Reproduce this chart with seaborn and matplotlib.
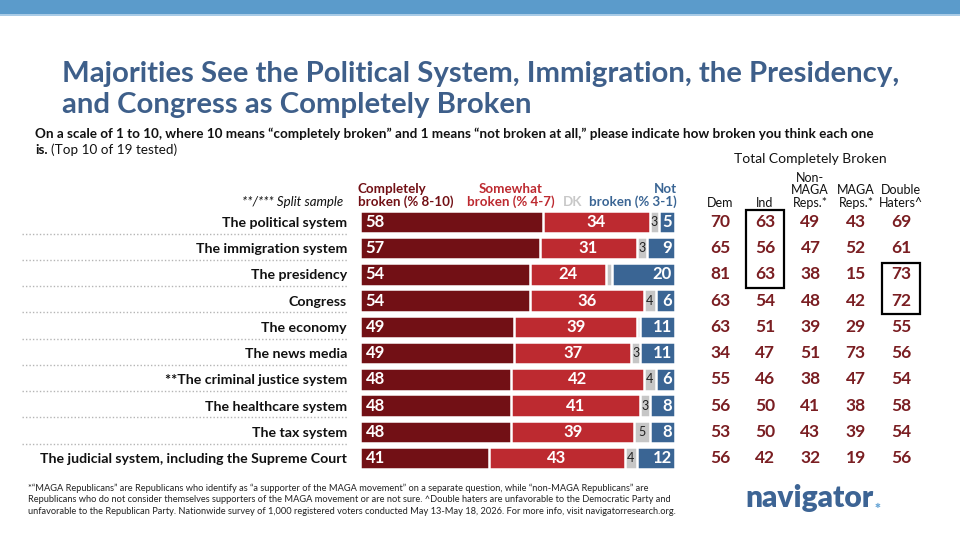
import matplotlib
matplotlib.use("Agg")
import matplotlib.pyplot as plt
import seaborn as sns
import numpy as np
import pandas as pd
from matplotlib.patches import Rectangle

# ---------------- data ----------------
categories = ["The political system", "The immigration system", "The presidency", "Congress",
              "The economy", "The news media", "**The criminal justice system",
              "The healthcare system", "The tax system",
              "The judicial system, including the Supreme Court"]
completely = [58, 57, 54, 54, 49, 49, 48, 48, 48, 41]
somewhat = [34, 31, 24, 36, 39, 37, 42, 41, 39, 43]
dk = [3, 3, 2, 4, 1, 3, 4, 3, 5, 4]
not_broken = [5, 9, 20, 6, 11, 11, 6, 8, 8, 12]

table_cols = ["Dem", "Ind", "Non-\nMAGA\nReps.*", "MAGA\nReps.*", "Double\nHaters^"]
dem = [70, 65, 81, 63, 63, 34, 55, 56, 53, 56]
ind = [63, 56, 63, 54, 51, 47, 46, 50, 50, 42]
non_maga = [49, 47, 38, 48, 39, 51, 38, 41, 43, 32]
maga = [43, 52, 15, 42, 29, 73, 47, 38, 39, 19]
double_haters = [69, 61, 73, 72, 55, 56, 54, 58, 54, 56]

# ---------------- style ----------------
sns.set_theme(style="white")
FAM = ['Liberation Sans Narrow', 'Lato', 'DejaVu Sans']
plt.rcParams['font.family'] = FAM

C_DARK = '#721015'
C_RED = '#bd2a30'
C_GRAY = '#c6c6c6'
C_BLUE = '#3a6594'
C_TITLE = '#3e5f8a'
C_NUM = '#7a1e22'

W, H = 960, 540
fig = plt.figure(figsize=(9.6, 5.4), dpi=100)
fig.patch.set_facecolor('white')

def fx(px):
    return px / W

def fy(py):
    return 1 - py / H

# top band
fig.patches.append(Rectangle((0, fy(14)), 1, 14 / H, transform=fig.transFigure,
                             facecolor='#5b9bcb', edgecolor='none'))
fig.patches.append(Rectangle((0, fy(16)), 1, 2 / H, transform=fig.transFigure,
                             facecolor='#a9cbe6', edgecolor='none'))

# ---------------- bars ----------------
s = (458 - 222) / 9
top_px = 222 - s / 2
bot_px = 458 + s / 2
ax = fig.add_axes([fx(360), fy(bot_px), 315 / W, (bot_px - top_px) / H])

c1 = np.array(completely)
c2 = c1 + np.array(somewhat)
c3 = c2 + np.array(dk)
c4 = c3 + np.array(not_broken)

for vals, col in [(c4, C_BLUE), (c3, C_GRAY), (c2, C_RED), (c1, C_DARK)]:
    sns.barplot(x=vals, y=categories, orient='h', color=col, saturation=1,
                width=0.86, edgecolor='white', linewidth=1.8, errorbar=None,
                order=categories, ax=ax)

ax.set_xlim(0, 100)
ax.set_ylim(9.5, -0.5)
for sp in ax.spines.values():
    sp.set_visible(False)
ax.set_xticks([])
ax.set_xlabel('')
ax.set_ylabel('')
ax.tick_params(axis='y', length=0, pad=9.4)
for lab in ax.get_yticklabels():
    lab.set_fontweight('bold')
    lab.set_fontsize(10.2)
    lab.set_color('#111111')

for i in range(len(categories)):
    ax.text(1.8, i, str(completely[i]), ha='left', va='center', color='white',
            fontweight='bold', fontsize=12)
    ax.text(c1[i] + somewhat[i] / 2, i, str(somewhat[i]), ha='center', va='center',
            color='white', fontweight='bold', fontsize=12)
    if dk[i] >= 3:
        ax.text(c2[i] + dk[i] / 2, i, str(dk[i]), ha='center', va='center',
                color='#222222', fontsize=9)
    ax.text(c4[i] - 1.0, i, str(not_broken[i]), ha='right', va='center',
            color='white', fontweight='bold', fontsize=12)

# dotted separators
for i in range(len(categories) - 1):
    ax.plot([(22 - 360) / 315, (347 - 360) / 315], [i + 0.45, i + 0.45],
            transform=ax.get_yaxis_transform(), ls=(0, (1, 1.5)), color='#b5b5b5',
            lw=1, clip_on=False)

# ---------------- table ----------------
ax2 = fig.add_axes([fx(697.4), fy(bot_px), 226.2 / W, (bot_px - top_px) / H])
ax2.set_xlim(-0.5, 4.5)
ax2.set_ylim(9.5, -0.5)
ax2.axis('off')
cols = [dem, ind, non_maga, maga, double_haters]
for j, colvals in enumerate(cols):
    for i, v in enumerate(colvals):
        ax2.text(j, i, str(v), ha='center', va='center', color=C_NUM,
                 fontweight='bold', fontsize=12.5)
ax2.add_patch(Rectangle((0.58, -0.45), 0.84, 2.95, fill=False, edgecolor='black',
                        lw=1.6, clip_on=False))
ax2.add_patch(Rectangle((3.58, 1.55), 0.84, 1.97, fill=False, edgecolor='black',
                        lw=1.6, clip_on=False))

col_x = [720, 765, 810, 856, 901]
for x, lab in zip(col_x, table_cols):
    fig.text(fx(x), fy(209), lab, ha='center', va='bottom', multialignment='center',
             fontsize=9, color='#111111', linespacing=1.05)
fig.text(fx(810), fy(163), "Total Completely Broken", ha='center', va='baseline',
         fontsize=10, color='#111111')

# ---------------- legend headers ----------------
LF = 9.6
fig.text(fx(358), fy(208), "Completely\nbroken (% 8-10)", ha='left', va='bottom',
         multialignment='left', color=C_DARK, fontweight='bold', fontsize=LF,
         linespacing=1.05)
fig.text(fx(511), fy(208), "Somewhat\nbroken (% 4-7)", ha='center', va='bottom',
         multialignment='center', color=C_RED, fontweight='bold', fontsize=LF,
         linespacing=1.05)
fig.text(fx(563), fy(208), "DK", ha='left', va='bottom', color='#c8c8c8',
         fontweight='bold', fontsize=LF)
fig.text(fx(677), fy(208), "Not\nbroken (% 3-1)", ha='right', va='bottom',
         multialignment='right', color=C_BLUE, fontweight='bold', fontsize=LF,
         linespacing=1.05)
fig.text(fx(343), fy(208), "**/*** Split sample", ha='right', va='bottom',
         style='italic', fontsize=9.5, color='#111111')

# ---------------- title / subtitle ----------------
fig.text(fx(62), fy(82), "Majorities See the Political System, Immigration, the Presidency,",
         ha='left', va='baseline', fontsize=21.2, fontweight='bold', color=C_TITLE)
fig.text(fx(62), fy(113), "and Congress as Completely Broken",
         ha='left', va='baseline', fontsize=21.2, fontweight='bold', color=C_TITLE)
fig.text(fx(35), fy(138),
         "On a scale of 1 to 10, where 10 means \u201ccompletely broken\u201d and 1 means \u201cnot broken at all,\u201d please indicate how broken you think each one",
         ha='left', va='baseline', fontsize=9.75, fontweight='bold', color='#111111')
t_is = fig.text(fx(35), fy(154), "is.", ha='left', va='baseline', fontsize=9.75,
                fontweight='bold', color='#111111')
fig.canvas.draw()
r = fig.canvas.get_renderer()
bb = t_is.get_window_extent(r)
fig.text(bb.x1 / W + 3 / W, fy(154), "(Top 10 of 19 tested)", ha='left', va='baseline',
         fontsize=9.75, color='#111111')

# ---------------- footnote ----------------
foot = [
    "*\u201cMAGA Republicans\u201d are Republicans who identify as \u201ca supporter of the MAGA movement\u201d on a separate question, while \u201cnon-MAGA Republicans\u201d are",
    "Republicans who do not consider themselves supporters of the MAGA movement or are not sure. ^Double haters are unfavorable to the Democratic Party and",
    "unfavorable to the Republican Party. Nationwide survey of 1,000 registered voters conducted May 13-May 18, 2026. For more info, visit navigatorresearch.org.",
]
for k, line in enumerate(foot):
    fig.text(fx(28), fy(491 + 11.5 * k), line, ha='left', va='baseline', fontsize=6.7,
             color='#222222')

# ---------------- logo ----------------
logo = fig.text(fx(745), fy(507), "navigator", ha='left', va='baseline', fontsize=21.5,
                fontweight='heavy', color='#3d6494', family=['Lato', 'DejaVu Sans'])
fig.canvas.draw()
lb = logo.get_window_extent(fig.canvas.get_renderer())
fig.text(lb.x1 / W + 1 / W, fy(508), "\u2731", ha='left', va='baseline', fontsize=5,
         color='#6aa6d6', family=['DejaVu Sans'])

fig.savefig('out.png', dpi=100)
